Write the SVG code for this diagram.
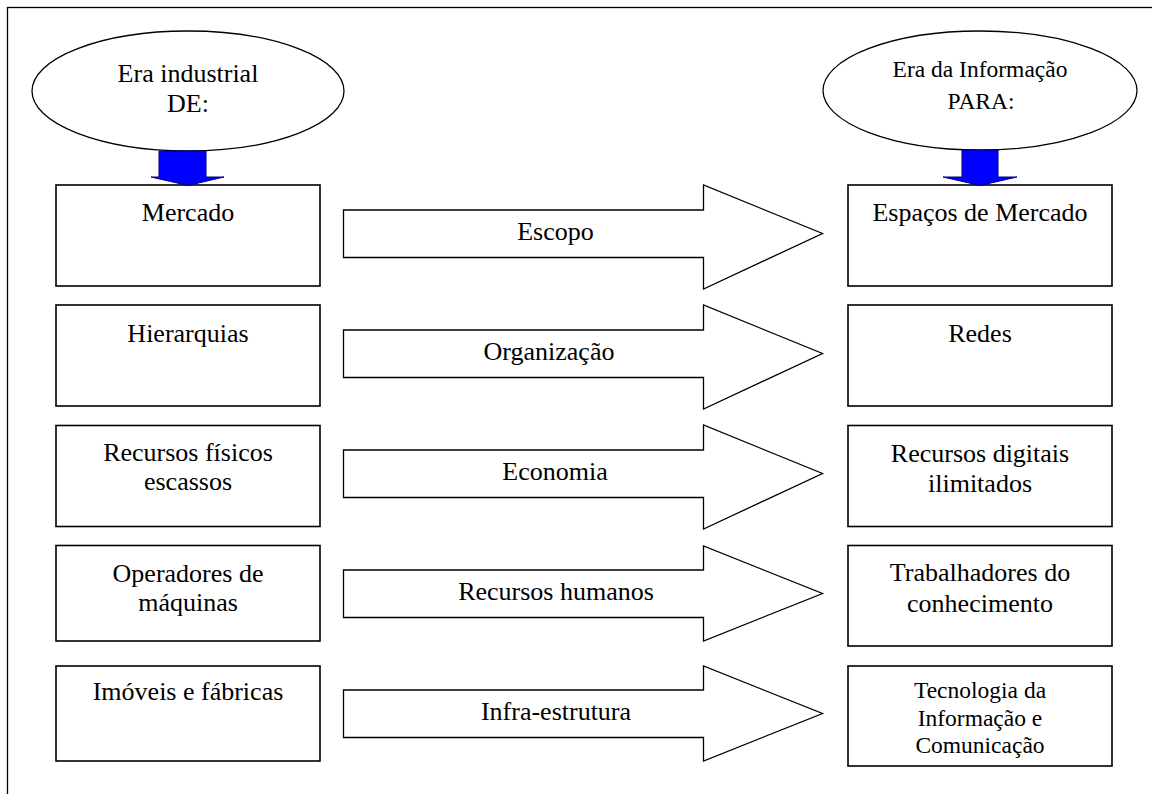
<svg xmlns="http://www.w3.org/2000/svg" width="1152" height="794" viewBox="0 0 1152 794">
  <style>
    .frame { fill: #ffffff; stroke: #000000; stroke-width: 1.3; }
    .box { fill: #ffffff; stroke: #000000; stroke-width: 1.6; }
    .oval { fill: #ffffff; stroke: #000000; stroke-width: 1.3; }
    .flow { fill: #ffffff; stroke: #000000; stroke-width: 1.3; stroke-linejoin: miter; }
    .down { fill: #0000ff; stroke: #00008a; stroke-width: 1; }
    text { font-family: "Liberation Serif", "Times New Roman", serif; fill: #000000; text-anchor: middle; }
    .t { font-size: 26px; }
    .s { font-size: 23.5px; }
  </style>

  <!-- page frame -->
  <rect class="frame" x="7.5" y="7.5" width="1160" height="800"/>

  <!-- era headings -->
  <g id="era-industrial">
    <ellipse class="oval" cx="188" cy="91" rx="156" ry="60"/>
    <text class="t" x="188" y="82">Era industrial</text>
    <text class="t" x="188" y="112">DE:</text>
  </g>
  <g id="era-informacao">
    <ellipse class="oval" cx="980" cy="90.5" rx="157" ry="59.5"/>
    <text class="s" x="980" y="77">Era da Informação</text>
    <text class="s" x="981" y="109">PARA:</text>
  </g>

  <!-- left column: industrial era -->
  <g id="mercado">
    <rect class="box" x="56" y="185" width="264" height="101"/>
    <text class="t" x="188" y="221">Mercado</text>
  </g>
  <g id="hierarquias">
    <rect class="box" x="56" y="305" width="264" height="101"/>
    <text class="t" x="188" y="342">Hierarquias</text>
  </g>
  <g id="recursos-fisicos">
    <rect class="box" x="56" y="425.5" width="264" height="101"/>
    <text class="t" x="188" y="461">Recursos físicos</text>
    <text class="t" x="188" y="490">escassos</text>
  </g>
  <g id="operadores">
    <rect class="box" x="56" y="545.5" width="264" height="95.5"/>
    <text class="t" x="188" y="582">Operadores de</text>
    <text class="t" x="188" y="611">máquinas</text>
  </g>
  <g id="imoveis">
    <rect class="box" x="56" y="666" width="264" height="95"/>
    <text class="t" x="188" y="700">Imóveis e fábricas</text>
  </g>

  <!-- right column: information era -->
  <g id="espacos-mercado">
    <rect class="box" x="848" y="185" width="264" height="101"/>
    <text class="t" x="980" y="221">Espaços de Mercado</text>
  </g>
  <g id="redes">
    <rect class="box" x="848" y="305" width="264" height="101"/>
    <text class="t" x="980" y="342">Redes</text>
  </g>
  <g id="recursos-digitais">
    <rect class="box" x="848" y="425.5" width="264" height="101"/>
    <text class="t" x="980" y="462">Recursos digitais</text>
    <text class="t" x="980" y="492">ilimitados</text>
  </g>
  <g id="trabalhadores">
    <rect class="box" x="848" y="545.5" width="264" height="100.5"/>
    <text class="t" x="980" y="581">Trabalhadores do</text>
    <text class="t" x="980" y="612">conhecimento</text>
  </g>
  <g id="tecnologia">
    <rect class="box" x="848" y="666" width="264" height="100"/>
    <text class="s" x="980" y="698">Tecnologia da</text>
    <text class="s" x="980" y="726">Informação e</text>
    <text class="s" x="980" y="753">Comunicação</text>
  </g>

  <!-- connectors: block arrows between columns and heading arrows -->
  <g id="connectors">
    <polygon class="down" points="159,151 206,151 206,177 224,177 188,185.5 151,177 159,177"/>
    <polygon class="down" points="962,150 998,150 998,177 1017,177 980,185.5 943,177 962,177"/>

    <polygon class="flow" points="343.5,210 703.5,210 703.5,185 822.5,233.5 703.5,289 703.5,257.5 343.5,257.5"/>
    <text class="t" x="555.5" y="240">Escopo</text>

    <polygon class="flow" points="343.5,330 703.5,330 703.5,305 822.5,353.5 703.5,409 703.5,377.5 343.5,377.5"/>
    <text class="t" x="549" y="360">Organização</text>

    <polygon class="flow" points="343.5,450 703.5,450 703.5,425 822.5,473.5 703.5,529 703.5,497.5 343.5,497.5"/>
    <text class="t" x="555" y="480">Economia</text>

    <polygon class="flow" points="343.5,570 703.5,570 703.5,546 822.5,593.5 703.5,641 703.5,617.5 343.5,617.5"/>
    <text class="t" x="556" y="600">Recursos humanos</text>

    <polygon class="flow" points="343.5,690 703.5,690 703.5,666 822.5,713.5 703.5,761 703.5,737.5 343.5,737.5"/>
    <text class="t" x="556" y="720">Infra-estrutura</text>
  </g>
</svg>
